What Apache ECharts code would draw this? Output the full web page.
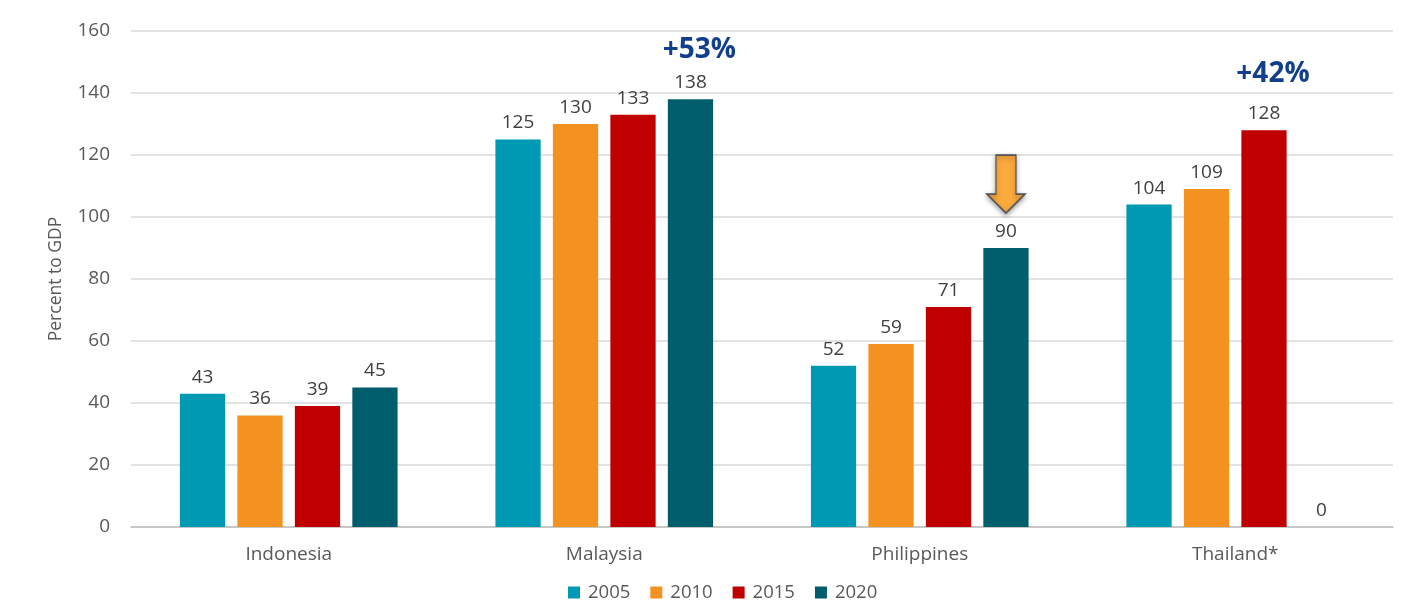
<!DOCTYPE html>
<html>
<head>
<meta charset="utf-8">
<script src="https://cdn.jsdelivr.net/npm/echarts@6/dist/echarts.min.js"></script>
<style>
  html, body { margin: 0; padding: 0; background: #fff; }
  #chart { width: 1404px; height: 610px; }
</style>
</head>
<body>
<div id="chart"></div>
<script>
// 数据
const countries = ['Indonesia', 'Malaysia', 'Philippines', 'Thailand*']
const years = ['2005', '2010', '2015', '2020']
const v2005 = [43, 125, 52, 104]
const v2010 = [36, 130, 59, 109]
const v2015 = [39, 133, 71, 128]
const v2020 = [45, 138, 90, 0]
const yTicks = [0, 20, 40, 60, 80, 100, 120, 140, 160]

// 注释（增长幅度 + 箭头）
const growthNotes = [
  { text: '+53%', country: 'Malaysia', series: '2020', y: 154 },
  { text: '+42%', country: 'Thailand*', series: '2015', y: 146 }
]
const arrowAt = { country: 'Philippines', y: 110.6 }

const colors = ['#0099b3', '#f39221', '#c00000', '#005e6c']
const font = '"Open Sans", "DejaVu Sans", sans-serif'

const mChart = echarts.init(document.getElementById('chart'))

const seriesData = [v2005, v2010, v2015, v2020]
const series = years.map((y, i) => {
  const s = {
    name: y,
    type: 'bar',
    barGap: '27%',
    barCategoryGap: '31%',
    color: colors[i],
    label: {
      show: true,
      position: 'top',
      distance: 7,
      color: '#404040',
      fontSize: 19,
      fontFamily: font
    },
    data: seriesData[i]
  }
  const marks = []
  growthNotes.filter((n) => n.series === y).forEach((n) => {
    marks.push({
      coord: [n.country, n.y],
      symbol: 'rect',
      symbolSize: 1,
      itemStyle: { color: 'transparent' },
      label: {
        show: true,
        position: 'inside',
        offset: [9, 0],
        formatter: n.text,
        color: '#123f8c',
        fontSize: 28,
        fontWeight: 'bold',
        fontFamily: font
      }
    })
  })
  if (y === '2020') {
    marks.push({
      coord: [arrowAt.country, arrowAt.y],
      symbol: 'path://M9,0 L29,0 L29,39 L38,39 L19,58 L0,39 L9,39 Z',
      symbolSize: [38, 58],
      itemStyle: {
        color: '#fbaa3c',
        borderColor: '#555',
        borderWidth: 1.5,
        shadowBlur: 5,
        shadowColor: 'rgba(0,0,0,0.35)',
        shadowOffsetY: 2
      },
      label: { show: false }
    })
  }
  if (marks.length) {
    s.markPoint = { silent: true, animation: false, data: marks }
  }
  return s
})

const options = {
  animation: false,
  backgroundColor: '#ffffff',
  textStyle: { fontFamily: font },
  grid: { left: 131, right: 11, top: 31, bottom: 83 },
  legend: {
    bottom: 3,
    left: 563,
    itemWidth: 12,
    itemHeight: 12,
    itemGap: 20,
    icon: 'rect',
    textStyle: { color: '#595959', fontSize: 18.5, fontFamily: font, padding: [0, 0, 0, 3] },
    data: years
  },
  xAxis: {
    type: 'category',
    data: countries,
    axisTick: { show: false },
    axisLine: { lineStyle: { color: '#bfbfbf', width: 1.5 } },
    axisLabel: { color: '#595959', fontSize: 19, margin: 18, fontFamily: font }
  },
  yAxis: {
    type: 'value',
    min: yTicks[0],
    max: yTicks[yTicks.length - 1],
    interval: 20,
    name: 'Percent to GDP',
    nameLocation: 'middle',
    nameGap: 66,
    nameRotate: 90,
    nameTextStyle: { color: '#595959', fontSize: 17.5, fontFamily: font },
    axisLabel: { color: '#595959', fontSize: 19, margin: 21, fontFamily: font },
    splitLine: { lineStyle: { color: '#d9d9d9', width: 1.5 } }
  },
  series
}
mChart.setOption(options)
</script>
</body>
</html>
